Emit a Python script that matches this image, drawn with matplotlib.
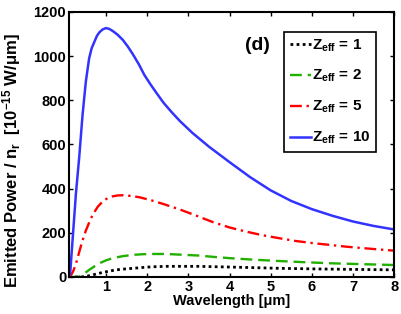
import matplotlib
matplotlib.use("Agg")
import matplotlib.pyplot as plt

plt.rcParams['font.family'] = ['Liberation Sans', 'DejaVu Sans']
plt.rcParams['font.weight'] = 'bold'
plt.rcParams['mathtext.fontset'] = 'custom'
plt.rcParams['mathtext.rm'] = 'Liberation Sans:bold'
plt.rcParams['mathtext.it'] = 'Liberation Sans:bold'
plt.rcParams['mathtext.bf'] = 'Liberation Sans:bold'

# values (wavelength in um, power in 1e-15 W/um)
x_z10 = [0.10, 0.13, 0.20, 0.27, 0.35, 0.43, 0.51, 0.59, 0.65, 0.72, 0.78, 0.84, 0.92, 1.00, 1.08,
         1.16, 1.28, 1.41, 1.53, 1.65, 1.80, 1.93, 2.08, 2.23, 2.40, 2.60, 2.80, 3.10, 3.50, 4.00,
         4.50, 5.00, 5.50, 6.00, 6.50, 7.00, 7.50, 8.00]
y_z10 = [0, 18, 200, 380, 545, 734, 885, 990, 1035, 1066, 1092, 1108, 1121, 1127, 1123,
         1114, 1097, 1073, 1043, 1009, 962, 915, 872, 832, 788, 745, 705, 652, 590, 520,
         452, 392, 344, 307, 277, 251, 231, 215]

x_z5 = [0.10, 0.13, 0.20, 0.27, 0.33, 0.39, 0.45, 0.51, 0.61, 0.68, 0.80, 0.92, 1.04, 1.16, 1.28,
        1.41, 1.60, 1.81, 2.10, 2.38, 2.80, 3.20, 3.60, 4.00, 4.41, 4.80, 5.22, 5.60, 6.03, 6.44,
        6.84, 7.40, 8.00]
y_z5 = [0, 1, 25, 60, 100, 140, 177, 210, 255, 283, 318, 342, 357, 365, 369,
        370, 367, 361, 347, 331, 305, 277, 248, 224, 205, 189, 175, 163, 153, 145,
        137, 128, 119]

x_z2 = [0.10, 0.25, 0.35, 0.47, 0.59, 0.72, 0.84, 1.00, 1.16, 1.40, 1.65, 1.90, 2.13, 2.46, 2.80,
        3.24, 3.60, 4.01, 4.60, 5.22, 5.80, 6.44, 7.20, 8.00]
y_z2 = [0, 0, 1, 15, 32, 48, 62, 75, 85, 94, 100, 103, 104, 104, 101,
        97, 91, 85, 78, 72, 67, 62, 58, 54]

x_z1 = [0.10, 0.40, 0.51, 0.67, 0.84, 1.04, 1.24, 1.45, 1.65, 1.90, 2.13, 2.46, 2.80, 3.24, 4.20,
        5.22, 6.20, 7.10, 8.00]
y_z1 = [0, 0, 2, 9, 17, 25, 32, 36, 39, 43, 46, 48, 48, 48, 44,
        39, 36, 34, 32]

fig = plt.figure(figsize=(4.01, 3.14), dpi=100)
ax = fig.add_axes([0.172, 0.118, 0.811, 0.844])

ax.plot(x_z1, y_z1, color='k', ls=(0, (1, 1.2)), lw=2, label='$Z_{eff}$ = 1')
ax.plot(x_z2, y_z2, color='#20b000', ls=(0, (5, 2.5)), lw=1.7, label='$Z_{eff}$ = 2')
ax.plot(x_z5, y_z5, color='#ff0000', ls=(0, (5, 2, 1, 2)), lw=1.7, label='$Z_{eff}$ = 5')
ax.plot(x_z10, y_z10, color='#3333ff', ls='-', lw=1.8, label='$Z_{eff}$ = 10')

ax.set_xlim(0.1, 8)
ax.set_ylim(0, 1200)
ax.set_xticks([1, 2, 3, 4, 5, 6, 7, 8])
ax.set_yticks([0, 200, 400, 600, 800, 1000, 1200])
ax.tick_params(direction='in', top=True, right=True, length=3, width=1, labelsize=10.5, pad=2)
for lab in ax.get_xticklabels() + ax.get_yticklabels():
    lab.set_fontweight('bold')
for s in ax.spines.values():
    s.set_linewidth(1.5)

ax.set_xlabel('Wavelength [μm]', fontsize=10.5, fontweight='bold', labelpad=0)
ax.set_ylabel('Emitted Power / n$_r$  [10$^{-15}$ W/μm]', fontsize=12, fontweight='bold')
ax.yaxis.set_label_coords(-0.14, 0.44)

ax.text(0.578, 0.872, '(d)', transform=ax.transAxes, fontsize=14, fontweight='bold',
        ha='center', va='center')

leg = ax.legend(loc='upper right', bbox_to_anchor=(0.945, 0.925), handlelength=1.4,
                handletextpad=0.1, labelspacing=0.95, borderpad=0.35, borderaxespad=0,
                fancybox=False, framealpha=1, edgecolor='k',
                prop={'size': 11, 'weight': 'bold'})
leg.get_frame().set_linewidth(1.2)

fig.savefig('out.png', dpi=100)
